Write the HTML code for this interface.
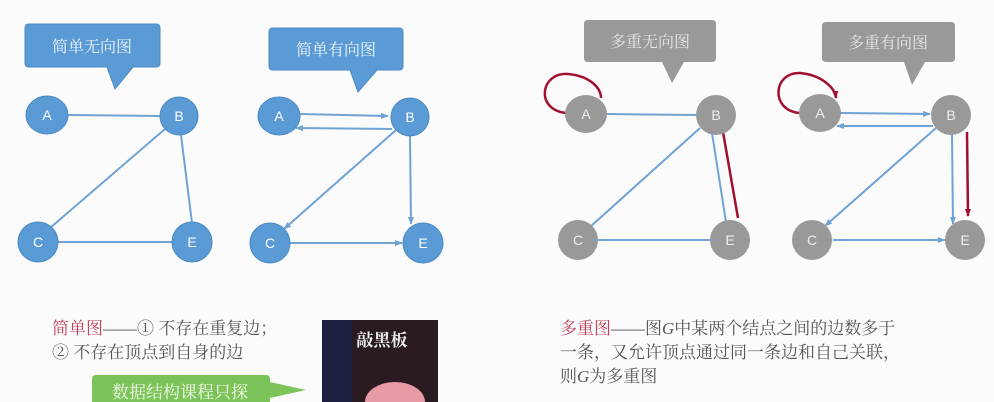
<!DOCTYPE html>
<html><head><meta charset="utf-8"><style>
html,body{margin:0;padding:0;background:#fff;}
svg{display:block;font-family:"Liberation Sans","Noto Sans CJK SC",sans-serif;}
.sf{font-family:"Liberation Serif","Noto Serif CJK SC",serif;}
</style></head><body>
<svg width="994" height="402" viewBox="0 0 994 402" xmlns="http://www.w3.org/2000/svg">
<defs>
<marker id="ab" markerWidth="8" markerHeight="8" refX="7" refY="4" orient="auto" markerUnits="userSpaceOnUse"><path d="M0,1 L8,4 L0,7 z" fill="#6fa3d4"/></marker>
<marker id="ar" markerWidth="8" markerHeight="8" refX="7" refY="4" orient="auto" markerUnits="userSpaceOnUse"><path d="M0,1 L8,4 L0,7 z" fill="#a01030"/></marker>
</defs>
<rect width="994" height="402" fill="#fbfbfb"/>
<g stroke="#6fa3d4" stroke-width="2" fill="none">
<line x1="67" y1="115" x2="160" y2="116"/>
<line x1="165" y1="129" x2="50" y2="228"/>
<line x1="181" y1="135" x2="192" y2="223"/>
<line x1="58" y1="242" x2="172" y2="242"/>
<line x1="300" y1="114" x2="388" y2="116" marker-end="url(#ab)"/>
<line x1="392" y1="129" x2="296" y2="128" marker-end="url(#ab)"/>
<line x1="396" y1="130" x2="284" y2="229" marker-end="url(#ab)"/>
<line x1="410" y1="136" x2="411" y2="224" marker-end="url(#ab)"/>
<line x1="290" y1="243" x2="402" y2="243" marker-end="url(#ab)"/>
<line x1="607" y1="114" x2="696" y2="115"/>
<line x1="700" y1="128" x2="590" y2="227"/>
<line x1="712" y1="133" x2="726" y2="222"/>
<line x1="598" y1="240" x2="710" y2="240"/>
<line x1="840" y1="113" x2="930" y2="114" marker-end="url(#ab)"/>
<line x1="933" y1="126" x2="837" y2="126" marker-end="url(#ab)"/>
<line x1="936" y1="128" x2="825" y2="226" marker-end="url(#ab)"/>
<line x1="952" y1="134" x2="953" y2="224" marker-end="url(#ab)"/>
<line x1="833" y1="240" x2="945" y2="240" marker-end="url(#ab)"/>
</g>
<g stroke="#a01030" stroke-width="2.5" fill="none">
<path d="M566,113 C535,110 540,72 568,74 C590,76 601,88 601,98"/>
<line x1="723" y1="132" x2="738" y2="218"/>
<path d="M799,113 C770,110 773,72 800,73 C822,75 835,88 836,98" marker-end="url(#ar)"/>
<line x1="967" y1="132" x2="968" y2="216" marker-end="url(#ar)"/>
</g>
<path d="M29,24 H156 Q160,24 160,28 V63 Q160,67 156,67 H133 L115,89 L107,67 H29 Q25,67 25,63 V28 Q25,24 29,24 z" fill="#5b9bd5" stroke="#4a8ac4"/>
<text x="92" y="52" font-size="16" fill="#eef4fa" text-anchor="middle" class="sf">简单无向图</text>
<path d="M273,28 H399 Q403,28 403,32 V66 Q403,70 399,70 H377 L358,92 L350,70 H273 Q269,70 269,66 V32 Q269,28 273,28 z" fill="#5b9bd5" stroke="#4a8ac4"/>
<text x="336" y="55" font-size="16" fill="#eef4fa" text-anchor="middle" class="sf">简单有向图</text>
<path d="M588,20 H712 Q716,20 716,24 V58 Q716,62 712,62 H684 L672,83 L662,62 H588 Q584,62 584,58 V24 Q584,20 588,20 z" fill="#999"/>
<text x="650" y="47" font-size="16" fill="#e6e6e6" text-anchor="middle" class="sf">多重无向图</text>
<path d="M826,22 H951 Q955,22 955,26 V58 Q955,62 951,62 H925 L912,85 L904,62 H826 Q822,62 822,58 V26 Q822,22 826,22 z" fill="#999"/>
<text x="888" y="48" font-size="16" fill="#e6e6e6" text-anchor="middle" class="sf">多重有向图</text>
<g fill="#5b9bd5" stroke="#4a8ac4">
<ellipse cx="47" cy="115" rx="21" ry="19"/><ellipse cx="179" cy="116" rx="19" ry="19"/>
<ellipse cx="38" cy="242" rx="20" ry="20"/><ellipse cx="192" cy="242" rx="20" ry="20"/>
<ellipse cx="279" cy="116" rx="21" ry="19"/><ellipse cx="410" cy="117" rx="19" ry="19"/>
<ellipse cx="270" cy="243" rx="20" ry="20"/><ellipse cx="423" cy="243" rx="20" ry="20"/>
</g>
<g fill="#999">
<ellipse cx="586" cy="114" rx="21" ry="19"/><ellipse cx="716" cy="115" rx="20" ry="20"/>
<ellipse cx="578" cy="240" rx="20" ry="20"/><ellipse cx="730" cy="240" rx="20" ry="20"/>
<ellipse cx="820" cy="113" rx="21" ry="19"/><ellipse cx="951" cy="115" rx="20" ry="20"/>
<ellipse cx="812" cy="240" rx="20" ry="20"/><ellipse cx="965" cy="240" rx="20" ry="20"/>
</g>
<g font-size="14" fill="#fff" text-anchor="middle">
<text x="47" y="120">A</text><text x="179" y="121">B</text><text x="38" y="247">C</text><text x="192" y="247">E</text>
<text x="279" y="121">A</text><text x="410" y="122">B</text><text x="270" y="248">C</text><text x="423" y="248">E</text>
</g>
<g font-size="14" fill="#eee" text-anchor="middle">
<text x="586" y="119">A</text><text x="716" y="120">B</text><text x="578" y="245">C</text><text x="730" y="245">E</text>
<text x="820" y="118">A</text><text x="951" y="120">B</text><text x="812" y="245">C</text><text x="965" y="245">E</text>
</g>
<g class="sf">
<text x="52" y="334" font-size="17" fill="#555"><tspan fill="#c0405a">简单图</tspan>——① 不存在重复边；</text>
<text x="52" y="358" font-size="17" fill="#555">② 不存在顶点到自身的边</text>
</g>
<rect x="322" y="320" width="116" height="82" fill="#2a1a22"/>
<rect x="322" y="320" width="30" height="82" fill="#1c2040"/>
<text x="382" y="346" font-size="17" fill="#eee" text-anchor="middle" font-weight="bold" class="sf">敲黑板</text>
<ellipse cx="395" cy="402" rx="30" ry="20" fill="#e79aa6"/>
<path d="M96,375 H266 Q270,375 270,379 V382 L306,390 L270,398 V402 H92 V379 Q92,375 96,375 z" fill="#7cc35a"/>
<text x="180" y="398" font-size="17" fill="#f2fbe8" text-anchor="middle" class="sf">数据结构课程只探</text>
<g class="sf">
<text x="560" y="334" font-size="17" fill="#555"><tspan fill="#c0405a">多重图</tspan>——图<tspan font-style="italic">G</tspan>中某两个结点之间的边数多于</text>
<text x="560" y="358" font-size="17" fill="#555">一条，又允许顶点通过同一条边和自己关联，</text>
<text x="560" y="382" font-size="17" fill="#555">则<tspan font-style="italic">G</tspan>为多重图</text>
</g>
</svg>
</body></html>
